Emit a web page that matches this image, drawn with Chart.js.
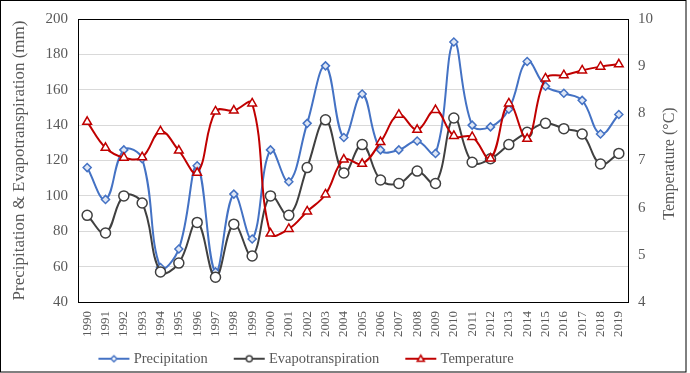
<!DOCTYPE html>
<html>
<head>
<meta charset="utf-8">
<script src="https://cdn.jsdelivr.net/npm/chart.js@4/dist/chart.umd.min.js"></script>
<style>
  body { margin: 0; background: #fff; }
  #wrap { width: 690px; height: 373px; overflow: hidden; }
</style>
</head>
<body>
<div id="wrap"><canvas id="grafico" width="690" height="376"></canvas></div>
<script>
const anios = ["1990","1991","1992","1993","1994","1995","1996","1997","1998","1999",
  "2000","2001","2002","2003","2004","2005","2006","2007","2008","2009",
  "2010","2011","2012","2013","2014","2015","2016","2017","2018","2019"];

const precipitacion = [116, 98, 126, 121, 59.5, 70, 117, 57, 101, 75.6,
  126, 108, 141, 173.5, 133, 157.6, 126, 126, 131, 124,
  187, 140, 139, 149, 176, 162, 158, 154, 135, 146];

const evapotranspiracion = [89, 79, 100, 96, 57, 62, 85, 54, 84, 66,
  100, 89, 116, 143, 113, 129, 109, 107, 114, 107,
  144, 119, 121, 129, 136, 141, 138, 135, 118, 124];

const temperatura = [7.82, 7.27, 7.06, 7.07, 7.62, 7.21, 6.74, 8.04, 8.06, 8.21,
  5.45, 5.55, 5.92, 6.28, 7.02, 6.93, 7.39, 7.97, 7.65, 8.07,
  7.52, 7.50, 7.04, 8.21, 7.46, 8.74, 8.81, 8.91, 8.99, 9.04];

const ticksIzq = [40, 200, 20];
const ticksDer = [4, 10, 1];
const tituloIzq = "Precipitation & Evapotranspiration (mm)";
const tituloDer = "Temperature (°C)";

const azul = "#4472C4";
const negro = "#404040";
const rojo = "#C00000";
const gris = "#595959";
const fuente = "'Liberation Serif', 'Times New Roman', serif";

// icono de leyenda: linea con marcador al centro (con margen transparente a la izquierda)
function iconoLeyenda(color, forma) {
  const c = document.createElement("canvas");
  c.width = 64; c.height = 12;
  const g = c.getContext("2d");
  const cx = 41.5;
  g.strokeStyle = color;
  g.lineWidth = 2;
  g.beginPath(); g.moveTo(26, 6); g.lineTo(57, 6); g.stroke();
  g.fillStyle = "#fff";
  g.lineWidth = 1.5;
  g.beginPath();
  if (forma === "rombo") {
    g.moveTo(cx, 3); g.lineTo(cx + 3, 6); g.lineTo(cx, 9); g.lineTo(cx - 3, 6); g.closePath();
  } else if (forma === "circulo") {
    g.arc(cx, 6, 3, 0, Math.PI * 2);
  } else {
    g.moveTo(cx, 2.5); g.lineTo(cx + 3.5, 8.5); g.lineTo(cx - 3.5, 8.5); g.closePath();
  }
  g.fill(); g.stroke();
  return c;
}

const iconos = [iconoLeyenda(azul, "rombo"), iconoLeyenda(negro, "circulo"), iconoLeyenda(rojo, "triangulo")];

const marco = {
  id: "marco",
  afterLayout(chart) {
    // correr la leyenda hacia la izquierda como en el original
    chart.legend.left -= 47;
    chart.legend.right -= 47;
  },
  beforeDatasetsDraw(chart) {
    const a = chart.chartArea;
    const ctx = chart.ctx;
    ctx.save();
    ctx.strokeStyle = "#000";
    ctx.lineWidth = 1;
    ctx.strokeRect(Math.round(a.left) + 0.5, Math.round(a.top) + 0.5,
      Math.round(a.right - a.left), Math.round(a.bottom - a.top));
    ctx.restore();
  },
  afterDraw(chart) {
    const ctx = chart.ctx;
    const a = chart.chartArea;
    ctx.save();
    ctx.strokeStyle = "#000";
    ctx.lineWidth = 1;
    ctx.strokeRect(0.5, 0.5, 685.5, 371.5);
    // titulo del eje derecho, leido de abajo hacia arriba
    ctx.translate(670, (a.top + a.bottom) / 2 + 3);
    ctx.rotate(-Math.PI / 2);
    ctx.fillStyle = gris;
    ctx.font = "16px " + fuente;
    ctx.textAlign = "center";
    ctx.textBaseline = "middle";
    ctx.fillText(tituloDer, 0, 0);
    ctx.restore();
  }
};

const ctx = document.getElementById("grafico").getContext("2d");

new Chart(ctx, {
  type: "line",
  data: {
    labels: anios,
    datasets: [
      {
        label: "Precipitation",
        data: precipitacion,
        yAxisID: "y",
        borderColor: azul,
        backgroundColor: "#dfe7f5",
        borderWidth: 2,
        pointStyle: "rectRot",
        pointRadius: 4,
        pointBorderWidth: 1.5,
        tension: 0.4,
        order: 2,
      },
      {
        label: "Evapotranspiration",
        data: evapotranspiracion,
        yAxisID: "y",
        borderColor: negro,
        backgroundColor: "#ffffff",
        borderWidth: 2,
        pointStyle: "circle",
        pointRadius: 5,
        pointBorderWidth: 1.5,
        tension: 0.4,
        order: 1,
      },
      {
        label: "Temperature",
        data: temperatura,
        yAxisID: "y1",
        borderColor: rojo,
        backgroundColor: "#ffffff",
        borderWidth: 2,
        pointStyle: "triangle",
        pointRadius: 5,
        pointBorderWidth: 1.5,
        tension: 0.4,
        order: 0,
      },
    ],
  },
  options: {
    responsive: false,
    animation: false,
    layout: { padding: { top: 19, left: 0, right: 0, bottom: 0 } },
    plugins: {
      tooltip: { enabled: false },
      legend: {
        position: "bottom",
        labels: {
          usePointStyle: true,
          pointStyleWidth: 44,
          padding: 10,
          color: gris,
          font: { family: fuente, size: 14.5 },
          generateLabels: (chart) => chart.data.datasets.map((d, i) => ({
            text: d.label,
            datasetIndex: i,
            pointStyle: iconos[i],
            fontColor: gris,
            lineWidth: 0,
            hidden: false,
          })),
        },
      },
    },
    scales: {
      x: {
        offset: true,
        grid: { display: false, drawTicks: false },
        border: { display: false },
        ticks: {
          autoSkip: false,
          minRotation: 90,
          maxRotation: 90,
          padding: 9,
          color: gris,
          font: { family: fuente, size: 13 },
        },
        afterFit: (scale) => { scale.height = 39.5; },
      },
      y: {
        position: "left",
        min: ticksIzq[0],
        max: ticksIzq[1],
        grid: { color: "#d9d9d9", drawTicks: false },
        border: { display: false },
        ticks: {
          stepSize: ticksIzq[2],
          padding: 10,
          color: gris,
          font: { family: fuente, size: 15 },
        },
        title: {
          display: true,
          text: tituloIzq,
          color: gris,
          padding: { top: 9, bottom: 0 },
          font: { family: fuente, size: 17 },
        },
        afterFit: (scale) => { scale.width = 78; },
      },
      y1: {
        position: "right",
        min: ticksDer[0],
        max: ticksDer[1],
        grid: { display: false, drawTicks: false },
        border: { display: false },
        ticks: {
          stepSize: ticksDer[2],
          padding: 10,
          color: gris,
          font: { family: fuente, size: 15 },
        },
        afterFit: (scale) => { scale.width = 62; },
      },
    },
  },
  plugins: [marco],
});
</script>
</body>
</html>
